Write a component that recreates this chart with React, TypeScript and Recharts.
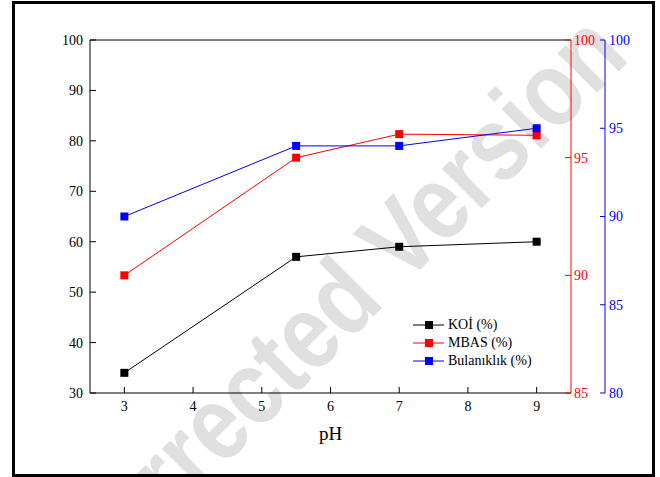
import React from "react";
import {
  LineChart, Line, XAxis, YAxis, ReferenceLine,
} from "recharts";

const phValues = [3, 5.5, 7, 9];
const koi = [34, 57, 59, 60];
const mbas = [90.0, 95.0, 96.0, 95.95];
const bulaniklik = [90.0, 94.0, 94.0, 95.0];

const xTicks = [3, 4, 5, 6, 7, 8, 9];
const leftTicks = [30, 40, 50, 60, 70, 80, 90, 100];
const redTicks = [85, 90, 95, 100];
const blueTicks = [80, 85, 90, 95, 100];

const seriesNames = ["KOİ (%)", "MBAS (%)", "Bulanıklık (%)"];
const seriesColors = ["#000000", "#ff0000", "#0000ff"];

const data = phValues.map((ph, i) => ({
  ph,
  koi: koi[i],
  mbas: mbas[i],
  bul: bulaniklik[i],
}));

const FONT = "'Liberation Serif', 'Times New Roman', serif";

function squareDot(color: string) {
  // eslint-disable-next-line @typescript-eslint/no-explicit-any
  return (p: any) => (
    <rect key={p.index} x={p.cx - 4} y={p.cy - 4} width={8} height={8} fill={color} />
  );
}

// legend drawn outside the chart so it doesn't eat plot space
function LegendBox() {
  return (
    <div style={{
      position: "absolute", left: 412, top: 316,
      fontFamily: FONT, fontSize: 14, lineHeight: "18px",
    }}>
      {seriesNames.map((name, i) => (
        <div key={name} style={{ display: "flex", alignItems: "center" }}>
          <svg width={36} height={18}>
            <line x1={1} y1={9} x2={32} y2={9} stroke={seriesColors[i]} strokeWidth={1} />
            <rect x={13} y={5} width={8} height={8} fill={seriesColors[i]} />
          </svg>
          <span style={{ color: "#000" }}>{name}</span>
        </div>
      ))}
    </div>
  );
}

export default function App() {
  return (
    <div style={{ position: "absolute", left: 0, top: 0, width: 660, height: 477, background: "#fff" }}>
      {/* watermark, condensed by a horizontal scale */}
      <svg width={660} height={477} style={{ position: "absolute", left: 0, top: 0 }}>
        <g transform="translate(360 330) rotate(-45) scale(0.84 1)">
          <text x={0} y={0} textAnchor="middle"
            style={{ fontFamily: "'Liberation Sans', Arial, sans-serif", fontSize: 106, fontWeight: 700, fill: "#e0e0e0" }}>
            Corrected Version
          </text>
        </g>
      </svg>

      <LineChart width={660} height={477} data={data}
        margin={{ top: 40, right: 0, bottom: 0, left: 0 }}
        style={{ fontFamily: FONT }}>
        <XAxis dataKey="ph" type="number" domain={[2.5, 9.5]} ticks={xTicks}
          height={84} stroke="#000" tickSize={-6} tickMargin={14}
          tick={{ fill: "#000", fontSize: 14 }}
          label={{ value: "pH", position: "insideBottom", offset: 37, fill: "#000", fontSize: 19 }} />
        <YAxis yAxisId="left" domain={[30, 100]} ticks={leftTicks} width={90}
          stroke="#000" tickSize={-6} tickMargin={13}
          tick={{ fill: "#000", fontSize: 14 }} />
        {/* right axes: r1 sits next to the plot, r2 outside it */}
        <YAxis yAxisId="r1" orientation="right" domain={[85, 100]} ticks={redTicks} width={34}
          stroke="#ff0000" tickSize={-6} tickMargin={9}
          tick={{ fill: "#ff0000", fontSize: 14 }} />
        <YAxis yAxisId="r2" orientation="right" domain={[80, 100]} ticks={blueTicks} width={55}
          stroke="#0000ff" tickSize={-5} tickMargin={9}
          tick={{ fill: "#0000ff", fontSize: 14 }} />
        <ReferenceLine yAxisId="left" y={100} stroke="#000" />
        <Line yAxisId="left" dataKey="koi" name={seriesNames[0]} stroke={seriesColors[0]} strokeWidth={1}
          dot={squareDot(seriesColors[0])} activeDot={false} isAnimationActive={false} />
        <Line yAxisId="r1" dataKey="mbas" name={seriesNames[1]} stroke={seriesColors[1]} strokeWidth={1}
          dot={squareDot(seriesColors[1])} activeDot={false} isAnimationActive={false} />
        <Line yAxisId="r2" dataKey="bul" name={seriesNames[2]} stroke={seriesColors[2]} strokeWidth={1}
          dot={squareDot(seriesColors[2])} activeDot={false} isAnimationActive={false} />
      </LineChart>

      <LegendBox />

      {/* outer frame */}
      <div style={{
        position: "absolute", left: 12, top: 1, width: 643, height: 476,
        border: "3px solid #000", boxSizing: "border-box", pointerEvents: "none",
      }} />
    </div>
  );
}
